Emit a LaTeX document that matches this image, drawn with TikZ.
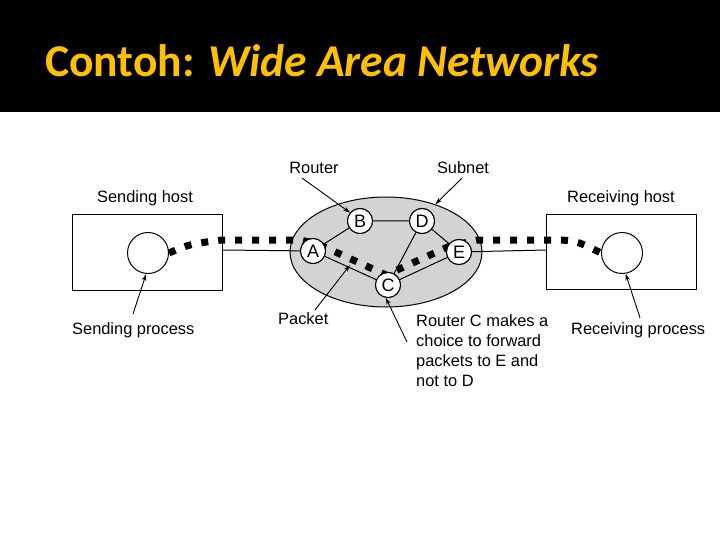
\documentclass[tikz,border=0pt]{standalone}
\usepackage{fontspec}
\setmainfont{Liberation Sans}
\newfontfamily\titlefont{Carlito}
\usetikzlibrary{arrows.meta,shapes.geometric}
\definecolor{titlegold}{HTML}{FFC000}
\definecolor{subnetgray}{HTML}{D3D3D3}
\begin{document}
\begin{tikzpicture}[x=1pt,y=-1pt,
  lbl/.style={font=\fontsize{16.4}{20}\selectfont, inner sep=0pt},
  router/.style={circle, draw, fill=white, line width=1pt, minimum size=25pt, inner sep=0pt, font=\fontsize{18}{18}\selectfont},
  host/.style={draw, line width=1pt, minimum width=150pt, minimum height=75pt, inner sep=0pt},
  proc/.style={circle, draw, fill=white, line width=1pt, minimum size=41pt, inner sep=0pt},
  link/.style={line width=1pt},
  ptr/.style={-{Stealth[length=7pt,width=4.5pt]}, line width=0.9pt},
  pkt/.style={line width=7pt, dash pattern=on 7pt off 10pt}
]
\useasboundingbox (0,0) rectangle (720,540);
\fill[white] (0,0) rectangle (720,540);
\fill[black] (0,0) rectangle (720,112);
\node[anchor=base west, text=titlegold, inner sep=0pt, font=\titlefont\bfseries\fontsize{45.5}{45.5}\selectfont] (title) at (45,77) {Contoh: \textit{Wide Area Networks}};

% subnet
\node[ellipse, draw, fill=subnetgray, line width=1pt, minimum width=192pt, minimum height=110pt] (subnet) at (386,252) {};

% hosts
\node[host] (sh) at (147,252.5) {};
\node[host] (rh) at (621.5,252) {};

% routers
\node[router] (A) at (313,251) {A};
\node[router] (B) at (360,221) {B};
\node[router] (D) at (422,221) {D};
\node[router] (E) at (459,252) {E};
\node[router] (C) at (388,285) {C};

\draw[link] (sh.east |- 0,250) -- (A);
\draw[link] (E) -- (rh.west |- 0,250);
\draw[link] (A) -- (B) -- (D) -- (E);
\draw[link] (A) -- (C) -- (E);
\draw[link] (D) -- (C);

% processes
\node[proc] (sp) at (148,253) {};
\node[proc] (rp) at (622,253) {};

% packet path
\coordinate (p1) at (222,240);
\coordinate (p2) at (300,240);
\coordinate (p3) at (318,244);
\coordinate (p4) at (386,275);
\coordinate (p5) at (450,246);
\coordinate (p6) at (478,240);
\coordinate (p7) at (547,240);
\draw[pkt] (sp.east) .. controls (190,244) .. (p1) -- (p2) -- (p3) -- (p4) -- (p5) -- (p6) -- (p7) .. controls (575,240) .. (rp.west);

% redraw routers on top
\foreach \r/\t in {A/A,B/B,D/D,E/E,C/C}{\node[router] at (\r) {\t};}

% labels
\node[lbl] (shl) at (145,198) {Sending host};
\node[lbl] (rhl) at (621,198) {Receiving host};
\node[lbl, anchor=west] (spl) at (72,330) {Sending process};
\node[lbl, anchor=west] (rpl) at (571,330) {Receiving process};
\node[lbl] (rtl) at (314,168) {Router};
\node[lbl] (snl) at (463,168) {Subnet};
\node[lbl, anchor=west] (pkl) at (278,319) {Packet};
\node[lbl, anchor=north west, align=left] (rcl) at (416,314) {Router C makes a\\choice to forward\\packets to E and\\not to D};

% pointers
\coordinate (spt) at (133,314);
\coordinate (rpt) at (640,318);
\coordinate (rtt) at (302,178);
\coordinate (snt) at (462,178);
\coordinate (pkt0) at (315,310);
\coordinate (pkt1) at (350,265);
\coordinate (rct) at (407,342);
\draw[ptr] (spt) -- (sp.265);
\draw[ptr] (rpt) -- (rp.-80);
\draw[ptr] (rtt) -- (B.140);
\draw[ptr] (snt) -- (subnet.44);
\draw[ptr] (pkt0) -- (pkt1);
\draw[ptr] (rct) -- (C.-100);
\end{tikzpicture}
\end{document}
